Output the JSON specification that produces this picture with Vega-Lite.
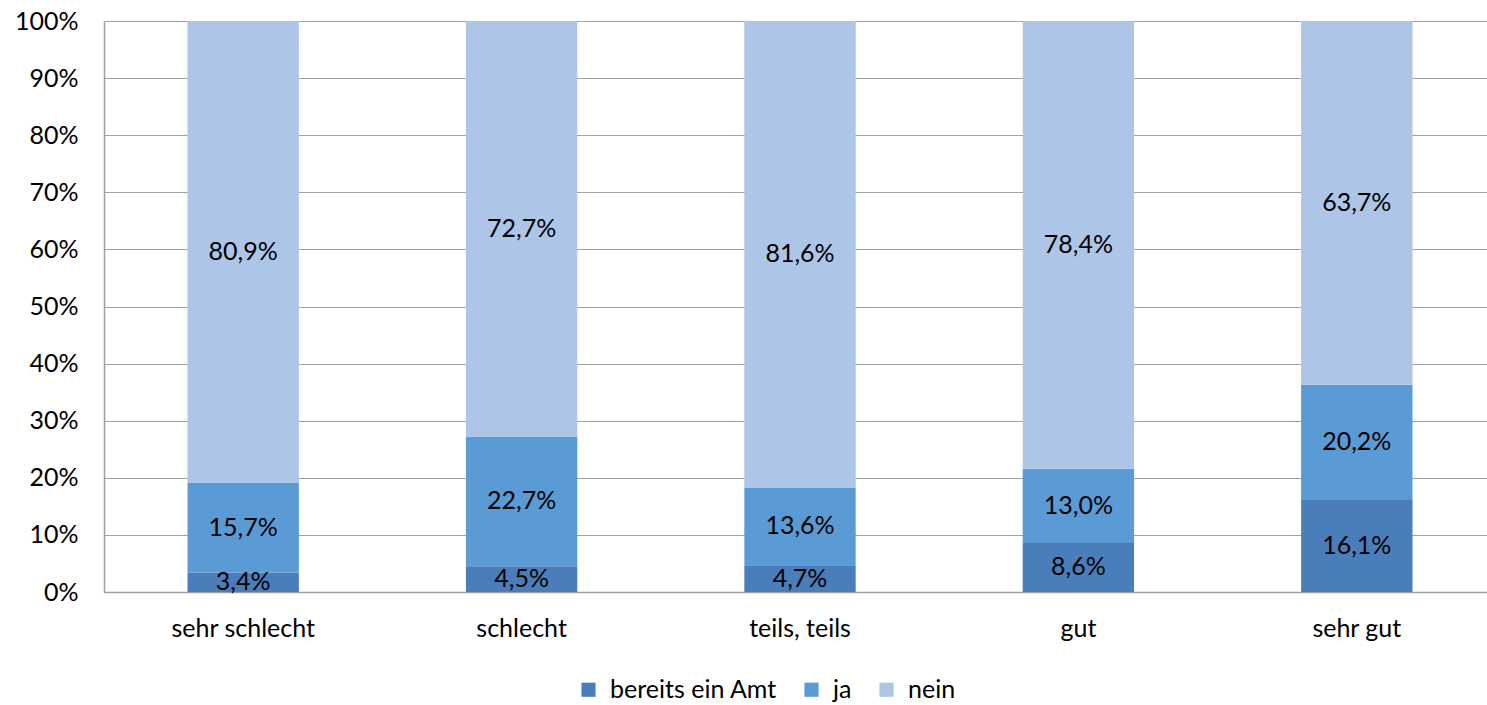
{
  "$schema": "https://vega.github.io/schema/vega-lite/v6.json",
  "width": 1392,
  "height": 571,
  "autosize": {"type": "none"},
  "padding": {"left": 104, "top": 21, "right": 0, "bottom": 113},
  "background": "white",
  "config": {
    "view": {"stroke": null},
    "font": "Lato",
    "locale": {"number": {"decimal": ",", "thousands": ".", "grouping": [3], "currency": ["", " €"]}}
  },
  "data": {"values": [
    {"cat": "sehr schlecht", "grp": "bereits ein Amt", "o": 1, "v": 0.034},
    {"cat": "sehr schlecht", "grp": "ja", "o": 2, "v": 0.157},
    {"cat": "sehr schlecht", "grp": "nein", "o": 3, "v": 0.809},
    {"cat": "schlecht", "grp": "bereits ein Amt", "o": 1, "v": 0.045},
    {"cat": "schlecht", "grp": "ja", "o": 2, "v": 0.227},
    {"cat": "schlecht", "grp": "nein", "o": 3, "v": 0.727},
    {"cat": "teils, teils", "grp": "bereits ein Amt", "o": 1, "v": 0.047},
    {"cat": "teils, teils", "grp": "ja", "o": 2, "v": 0.136},
    {"cat": "teils, teils", "grp": "nein", "o": 3, "v": 0.816},
    {"cat": "gut", "grp": "bereits ein Amt", "o": 1, "v": 0.086},
    {"cat": "gut", "grp": "ja", "o": 2, "v": 0.130},
    {"cat": "gut", "grp": "nein", "o": 3, "v": 0.784},
    {"cat": "sehr gut", "grp": "bereits ein Amt", "o": 1, "v": 0.161},
    {"cat": "sehr gut", "grp": "ja", "o": 2, "v": 0.202},
    {"cat": "sehr gut", "grp": "nein", "o": 3, "v": 0.637}
  ]},
  "transform": [
    {"stack": "v", "groupby": ["cat"], "sort": [{"field": "o", "order": "ascending"}], "offset": "normalize", "as": ["y0", "y1"]},
    {"calculate": "(datum.y0 + datum.y1) / 2", "as": "mid"}
  ],
  "encoding": {
    "x": {
      "field": "cat", "type": "nominal",
      "sort": ["sehr schlecht", "schlecht", "teils, teils", "gut", "sehr gut"],
      "scale": {"paddingInner": 0.6, "paddingOuter": 0.3},
      "axis": {"title": null, "labelAngle": 0, "labelFontSize": 25, "labelColor": "#000000", "ticks": false, "labelPadding": 24, "domainColor": "#A0A0A0", "domainWidth": 1.5, "grid": false}
    }
  },
  "layer": [
    {
      "mark": {"type": "bar"},
      "encoding": {
        "y": {"field": "y1", "type": "quantitative", "scale": {"domain": [0, 1]},
          "axis": {"title": null, "format": "%", "values": [0,0.1,0.2,0.3,0.4,0.5,0.6,0.7,0.8,0.9,1], "labelOverlap": false, "labelFontSize": 25, "labelColor": "#000000", "ticks": false, "labelPadding": 26, "domainColor": "#A0A0A0", "domainWidth": 1.5, "gridColor": "#A0A0A0", "gridWidth": 1.2}},
        "y2": {"field": "y0"},
        "color": {
          "field": "grp", "type": "nominal",
          "sort": ["bereits ein Amt", "ja", "nein"],
          "scale": {"domain": ["bereits ein Amt", "ja", "nein"], "range": ["#4A7EBB", "#5B9BD5", "#ADC5E7"]},
          "legend": {"title": null, "orient": "none", "legendX": 472, "legendY": 656, "direction": "horizontal", "symbolType": "square", "symbolSize": 200, "symbolStrokeWidth": 0, "labelFontSize": 25, "labelColor": "#000000", "labelLimit": 0, "columnPadding": 22, "labelOffset": 9}
        }
      }
    },
    {
      "mark": {"type": "text", "fontSize": 25, "color": "#000000", "baseline": "middle"},
      "encoding": {
        "y": {"field": "mid", "type": "quantitative",
          "axis": {"title": null, "format": "%", "values": [0,0.1,0.2,0.3,0.4,0.5,0.6,0.7,0.8,0.9,1], "labelOverlap": false, "labelFontSize": 25, "labelColor": "#000000", "ticks": false, "labelPadding": 26, "domainColor": "#A0A0A0", "domainWidth": 1.5, "gridColor": "#A0A0A0", "gridWidth": 1.2}},
        "text": {"field": "v", "type": "quantitative", "format": ".1%"}
      }
    }
  ]
}
